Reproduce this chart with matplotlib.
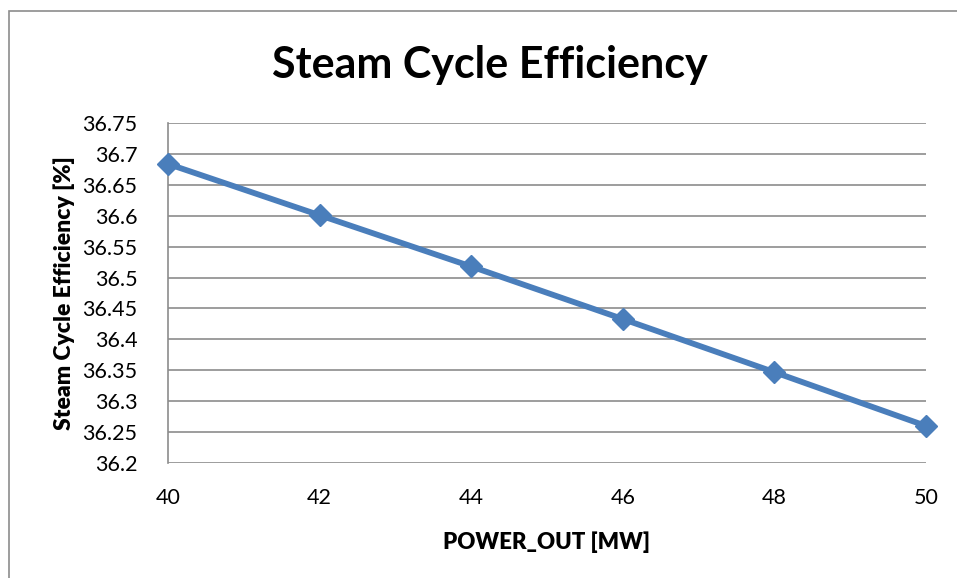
import matplotlib.pyplot as plt
import matplotlib.patches as patches

power_out = [40, 42, 44, 46, 48, 50]
efficiency = [36.684, 36.601, 36.518, 36.433, 36.347, 36.260]
y_ticks = [36.2, 36.25, 36.3, 36.35, 36.4, 36.45, 36.5, 36.55, 36.6, 36.65, 36.7, 36.75]
y_tick_labels = ['36.2', '36.25', '36.3', '36.35', '36.4', '36.45', '36.5', '36.55',
                 '36.6', '36.65', '36.7', '36.75']

plt.rcParams['font.family'] = ['Lato', 'DejaVu Sans']

fig = plt.figure(figsize=(9.57, 5.78), dpi=100)
ax = fig.add_axes([0.1755, 0.199, 0.792, 0.588])

# outer chart border like an Excel chart frame
fig.patches.append(patches.Rectangle((9 / 957, -0.1), 1.2, 1 - 11 / 578 + 0.1,
                                     transform=fig.transFigure, fill=False,
                                     edgecolor='#8c8c8c', lw=1.2))

ax.plot(power_out, efficiency, color='#4a7ebb', lw=4.2, marker='D', markersize=11,
        clip_on=False, zorder=3)

ax.set_xlim(40, 50)
ax.set_ylim(36.2, 36.75)
ax.set_yticks(y_ticks)
ax.set_yticklabels(y_tick_labels)
ax.set_xticks(power_out)
ax.yaxis.grid(True, color='#8c8c8c', lw=1.2)
ax.set_axisbelow(True)

for side in ['top', 'right', 'bottom']:
    ax.spines[side].set_visible(False)
ax.spines['left'].set_color('#8c8c8c')
ax.spines['left'].set_linewidth(1.2)
ax.tick_params(axis='both', length=0, labelsize=15.5, colors='black')
ax.tick_params(axis='y', pad=22)
ax.tick_params(axis='x', pad=18)

ax.set_xlabel('POWER_OUT [MW]', fontsize=16, fontweight='heavy', labelpad=17)
ax.set_ylabel('Steam Cycle Efficiency [%]', fontsize=16.5, fontweight='heavy', labelpad=5)
fig.text(0.512, 0.888, 'Steam Cycle Efficiency', fontsize=31, fontweight='bold',
         ha='center', va='center')

fig.savefig('out.png', dpi=100)
